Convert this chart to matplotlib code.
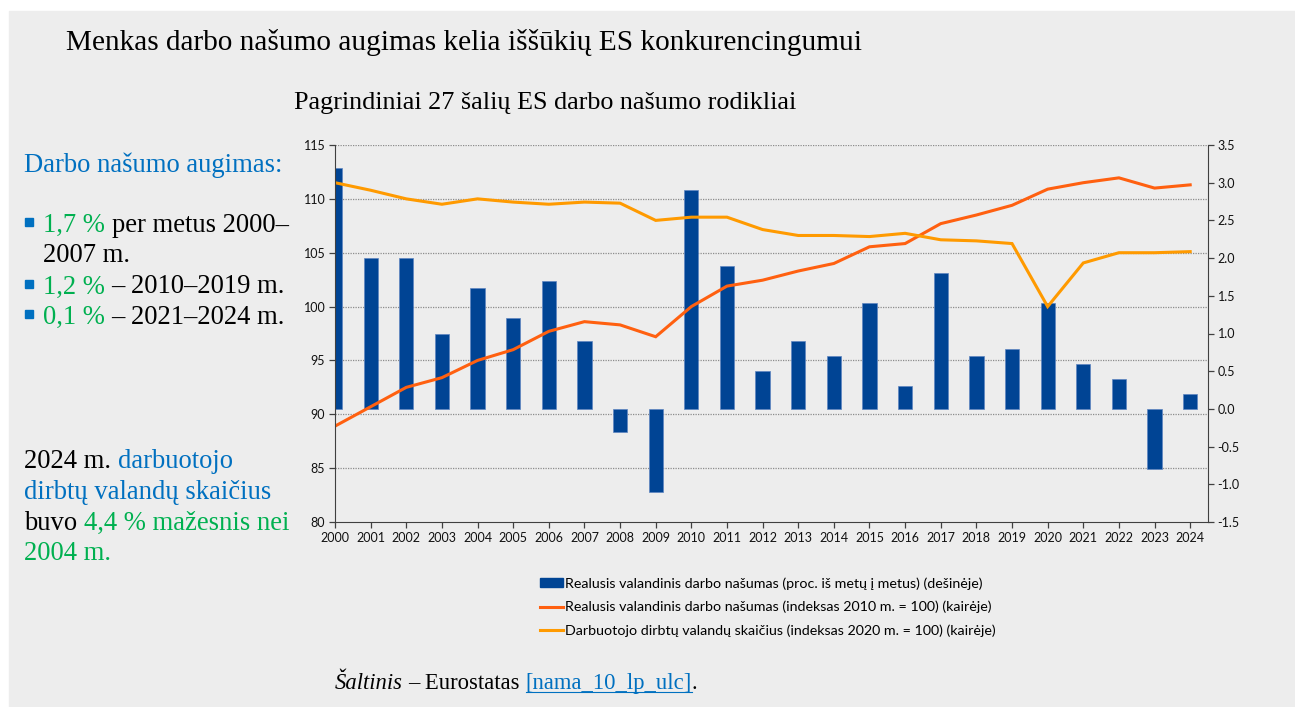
import matplotlib
matplotlib.use("Agg")
import matplotlib.pyplot as plt
import matplotlib.patches as mpatches
from matplotlib.lines import Line2D
from matplotlib.transforms import blended_transform_factory
import numpy as np

# data
years = list(range(2000, 2025))
growth_yoy = [3.2, 2.0, 2.0, 1.0, 1.6, 1.2, 1.7, 0.9, -0.3, -1.1, 2.9, 1.9, 0.5,
              0.9, 0.7, 1.4, 0.3, 1.8, 0.7, 0.8, 1.4, 0.6, 0.4, -0.8, 0.2]
productivity_idx = [88.9, 90.7, 92.5, 93.4, 95.0, 96.0, 97.7, 98.6, 98.3, 97.2, 100.0,
                    101.9, 102.45, 103.3, 104.0, 105.55, 105.85, 107.7, 108.5, 109.4,
                    110.9, 111.5, 111.95, 111.0, 111.3]
hours_idx = [111.5, 110.8, 110.0, 109.5, 110.0, 109.7, 109.5, 109.7, 109.6, 108.0, 108.3,
             108.3, 107.15, 106.6, 106.6, 106.5, 106.8, 106.2, 106.1, 105.85, 100.0,
             104.05, 105.0, 105.0, 105.1]

left_ticks = [80, 85, 90, 95, 100, 105, 110, 115]
right_ticks = [-1.5, -1.0, -0.5, 0.0, 0.5, 1.0, 1.5, 2.0, 2.5, 3.0, 3.5]

label_bars = "Realusis valandinis darbo našumas (proc. iš metų į metus) (dešinėje)"
label_prod = "Realusis valandinis darbo našumas (indeksas 2010 m. = 100) (kairėje)"
label_hours = "Darbuotojo dirbtų valandų skaičius (indeksas 2020 m. = 100) (kairėje)"

title = "Menkas darbo našumo augimas kelia iššūkių ES konkurencingumui"
subtitle = "Pagrindiniai 27 šalių ES darbo našumo rodikliai"

W, H = 1295, 707
BG = "#EDEDED"
BLUE_TXT = "#0070C0"
GREEN_TXT = "#00B050"
BAR_C = "#004494"
DARK_OR = "#FF6010"
LIGHT_OR = "#FF9A00"
SERIF = "Liberation Serif"
SANS = "Lato"

fig = plt.figure(figsize=(W / 100, H / 100), dpi=100)
fig.patch.set_facecolor("white")
fig.patches.append(mpatches.Rectangle((9 / W, 0), 1 - 9 / W, 1 - 11 / H,
                                      transform=fig.transFigure, color=BG, zorder=-10))

# axes: bars on the secondary (right) scale, lines on the left scale above them
ax2 = fig.add_axes([335 / W, 1 - 522 / H, (1208 - 335) / W, (522 - 145) / H])
ax = ax2.twinx()
ax2.yaxis.tick_right()
ax2.yaxis.set_label_position("right")
ax.yaxis.tick_left()
ax.set_zorder(ax2.get_zorder() + 1)
ax.patch.set_visible(False)
ax2.set_facecolor(BG)

ax2.bar(years, growth_yoy, width=0.4, color=BAR_C, edgecolor="#5f85c0",
        linewidth=0.5, zorder=2, label=label_bars)
ax.plot(years, productivity_idx, color=DARK_OR, lw=2.2, label=label_prod,
        solid_joinstyle="miter")
ax.plot(years, hours_idx, color=LIGHT_OR, lw=2.2, label=label_hours,
        solid_joinstyle="miter")

ax.set_ylim(80, 115)
ax2.set_ylim(-1.5, 3.5)
ax.set_xlim(2000, 2024.5)
ax.set_yticks(left_ticks)
ax2.set_yticks(right_ticks)
ax2.set_yticklabels([f"{v:.1f}" for v in right_ticks])
ax2.set_xticks(years)
ax2.set_xticklabels([str(y) for y in years])

# dotted gridlines at the left-axis ticks, behind the bars
gtr = blended_transform_factory(ax2.transAxes, ax.transData)
for v in left_ticks[1:]:
    ax2.plot([0, 1], [v, v], transform=gtr, color="#8c8c8c", lw=0.9,
             ls=(0, (1, 1)), zorder=0.5)

for a in (ax, ax2):
    for s in a.spines.values():
        s.set_visible(False)
ax.spines["left"].set_visible(True)
ax2.spines["right"].set_visible(True)
ax2.spines["bottom"].set_visible(True)
ax.spines["left"].set_color("#404040")
ax2.spines["right"].set_color("#404040")
ax2.spines["bottom"].set_color("#404040")
for a in (ax, ax2):
    a.tick_params(axis="both", direction="out", length=4, width=0.9, color="#404040",
                  labelsize=9, labelcolor="#111111")
    for lab in a.get_xticklabels() + a.get_yticklabels():
        lab.set_family(SANS)
ax.tick_params(axis="x", bottom=False, labelbottom=False)
ax2.tick_params(axis="x", pad=3)
ax.tick_params(axis="y", pad=3)
ax2.tick_params(axis="y", pad=3)

# legend below the chart
handles = [mpatches.Patch(color=BAR_C),
           Line2D([], [], color=DARK_OR, lw=2.2),
           Line2D([], [], color=LIGHT_OR, lw=2.2)]
fig.legend(handles, [label_bars, label_prod, label_hours], loc="upper left",
           bbox_to_anchor=(540 / W, 1 - 577 / H), frameon=False,
           prop={"family": SANS, "size": 10.3}, handlelength=1.6, handleheight=0.55,
           handletextpad=0.15, labelspacing=0.78, borderpad=0, borderaxespad=0)

renderer = fig.canvas.get_renderer()


def rich(x, y, parts, size, family=SERIF):
    # place text pieces one after another on one baseline (pixel coords)
    probe = fig.text(0, 0, "x x", fontsize=size, family=family)
    probe2 = fig.text(0, 0, "xx", fontsize=size, family=family)
    space = probe.get_window_extent(renderer).width - probe2.get_window_extent(renderer).width
    probe.remove()
    probe2.remove()
    items = []
    for txt, color, style in parts:
        t = fig.text(x / W, 1 - y / H, txt.rstrip(), color=color, fontsize=size,
                     family=family, style=style, va="baseline", ha="left")
        bb = t.get_window_extent(renderer)
        items.append((t, x, bb.width))
        x += bb.width + (space if txt.endswith(" ") else 0)
    return items


rich(66, 50, [(title, "black", "normal")], 21.1)
rich(294, 109, [(subtitle, "black", "normal")], 18.8)

lsize = 19.2
rich(24, 171.5, [("Darbo našumo augimas:", BLUE_TXT, "normal")], lsize)
rich(43, 231.5, [("1,7 % ", GREEN_TXT, "normal"), ("per metus 2000–", "black", "normal")], lsize)
rich(43, 262.5, [("2007 m.", "black", "normal")], lsize)
rich(43, 293.5, [("1,2 % ", GREEN_TXT, "normal"), ("– 2010–2019 m.", "black", "normal")], lsize)
rich(43, 323.5, [("0,1 % ", GREEN_TXT, "normal"), ("– 2021–2024 m.", "black", "normal")], lsize)
for by in (231.5, 293.5, 323.5):
    fig.patches.append(mpatches.Rectangle((25 / W, 1 - (by - 5.5) / H), 8 / W, 8 / H,
                                          transform=fig.transFigure, color=BLUE_TXT))

rich(24, 468.5, [("2024 m. ", "black", "normal"), ("darbuotojo", BLUE_TXT, "normal")], lsize)
rich(24, 499, [("dirbtų valandų skaičius", BLUE_TXT, "normal")], lsize)
rich(24, 529.5, [("buvo ", "black", "normal"), ("4,4 % mažesnis nei", GREEN_TXT, "normal")], lsize)
rich(24, 560, [("2004 m.", GREEN_TXT, "normal")], lsize)

src = rich(335, 689, [("Šaltinis ", "black", "italic"), ("– Eurostatas ", "black", "normal"),
                      ("[nama_10_lp_ulc]", BLUE_TXT, "normal"), (".", "black", "normal")], 16.3)
lt, lx, lw_ = src[2]
fig.add_artist(Line2D([lx / W, (lx + lw_) / W], [1 - 692 / H, 1 - 692 / H],
                      transform=fig.transFigure, color=BLUE_TXT, lw=0.8))

fig.savefig("out.png", dpi=100, facecolor=fig.get_facecolor())
